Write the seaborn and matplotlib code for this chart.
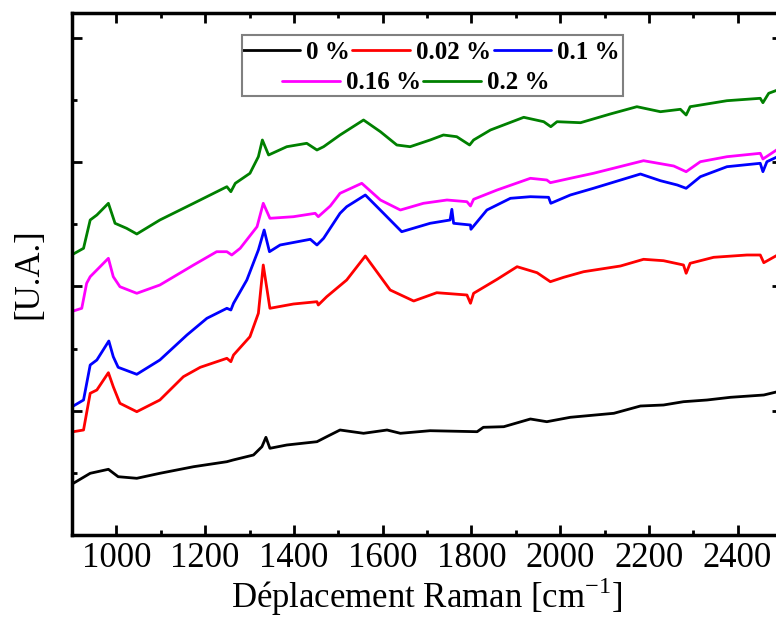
import matplotlib
matplotlib.use("Agg")
import matplotlib.pyplot as plt
import seaborn as sns
import pandas as pd
from matplotlib.ticker import MultipleLocator
from matplotlib.patches import Rectangle

# Raman spectra (wavenumber in cm-1, intensity in arbitrary units)
wn_0 = [903, 941, 982, 1004, 1046, 1098, 1174, 1249, 1263, 1309, 1328, 1337, 1346, 1384,
        1452, 1474, 1504, 1557, 1610, 1640, 1707, 1813, 1827, 1873, 1933, 1970, 2023,
        2121, 2181, 2233, 2278, 2331, 2384, 2459, 2490]
int_0 = [51.7, 61.7, 65.7, 58.3, 56.7, 61.7, 68.3, 73.3, 75, 80, 88.3, 97.7, 86.7, 90,
         93.3, 98.3, 105, 101.7, 105, 101.7, 104.3, 103.3, 107.7, 108.3, 116, 113.3, 117.7,
         121.7, 129, 130, 133.3, 135, 137.7, 140, 143.3]

wn_002 = [903, 926, 941, 956, 982, 993, 1008, 1046, 1098, 1151, 1189, 1249, 1258, 1264,
          1301, 1320, 1331, 1346, 1399, 1452, 1455, 1474, 1519, 1561, 1617, 1670, 1722,
          1790, 1798, 1805, 1858, 1903, 1948, 1978, 2008, 2053, 2136, 2188, 2233, 2278,
          2284, 2293, 2346, 2421, 2451, 2459, 2490]
int_002 = [103.3, 105, 141.7, 145, 162.3, 148.3, 131.7, 123.3, 135, 158.3, 167.7, 176.7,
           173.3, 180, 198.3, 221.7, 270, 226.7, 231, 233.3, 230, 238.3, 255, 279, 245,
           234, 242.3, 240, 231.7, 241.7, 255.7, 268.3, 262.3, 253.3, 257.7, 263.3, 269,
           275.7, 274.3, 270, 261.7, 271.7, 277.7, 280, 280, 272.3, 280]

wn_01 = [903, 926, 941, 956, 983, 993, 1004, 1046, 1098, 1159, 1204, 1249, 1258, 1264,
         1294, 1320, 1333, 1345, 1369, 1437, 1452, 1467, 1504, 1519, 1561, 1602, 1643,
         1707, 1752, 1756, 1760, 1798, 1799, 1835, 1888, 1933, 1974, 1979, 2023, 2075,
         2181, 2226, 2264, 2284, 2316, 2376, 2451, 2457, 2466, 2490]
int_01 = [129, 135, 170, 175, 194, 178.3, 167.7, 160.7, 175, 200, 216.7, 226.7, 225, 231.7,
          255, 285, 305, 283.3, 290, 295.7, 290, 296.7, 321.7, 328.3, 340, 321.7, 303.3,
          311.7, 315, 325.7, 311.7, 310, 305.7, 325, 336.7, 338.3, 337.7, 331.7, 340, 346.7,
          361, 354.3, 350, 346.7, 358.3, 368.3, 371.7, 363.3, 373.3, 378.3]

wn_016 = [903, 922, 933, 941, 982, 993, 1008, 1046, 1098, 1174, 1226, 1249, 1260, 1279,
          1317, 1331, 1346, 1399, 1448, 1455, 1482, 1504, 1553, 1595, 1640, 1692, 1745,
          1790, 1798, 1805, 1858, 1933, 1970, 1978, 2023, 2075, 2188, 2256, 2284, 2316,
          2376, 2451, 2457, 2490]
int_016 = [224, 226.7, 251.7, 258.3, 276.7, 258.3, 248.3, 241.7, 250, 270, 283.3, 283.3,
           280, 286.7, 308.3, 331.7, 316.7, 318.3, 321.7, 318.3, 329, 341.7, 351.7, 335,
           325, 331.7, 335, 333.3, 329, 335.7, 345, 356.7, 355, 352.3, 356.7, 361.7, 374.3,
           369, 363.3, 373.3, 378.3, 381.7, 376, 385.7]

wn_02 = [903, 926, 941, 956, 982, 997, 1023, 1046, 1098, 1174, 1249, 1258, 1268, 1301,
         1320, 1329, 1343, 1384, 1429, 1452, 1467, 1504, 1557, 1595, 1632, 1662, 1707,
         1737, 1767, 1796, 1805, 1843, 1918, 1963, 1979, 1993, 2046, 2113, 2173, 2226,
         2271, 2284, 2293, 2376, 2451, 2457, 2470, 2490]
int_02 = [281, 286.7, 315, 320, 331.7, 311.7, 306.7, 301, 315, 331.7, 348.3, 343.3, 351.7,
          361.7, 378.3, 395, 380, 388.3, 391.7, 385, 388.3, 400, 415, 403.3, 390, 388.3, 395,
          400, 398.3, 390, 395, 405, 417.7, 413.3, 408.3, 413.3, 412.3, 421, 428.3, 423.3,
          425.7, 420, 428.3, 434.3, 436.7, 432.3, 441.7, 445]

labels = ["0 %", "0.02 %", "0.1 %", "0.16 %", "0.2 %"]
colors = ["black", "#ff0000", "#0000ff", "#ff00ff", "#008000"]
series = [(wn_0, int_0), (wn_002, int_002), (wn_01, int_01), (wn_016, int_016), (wn_02, int_02)]

sns.set_style("ticks")
plt.rcParams["font.family"] = ["Liberation Serif", "DejaVu Serif"]
plt.rcParams["mathtext.fontset"] = "custom"
plt.rcParams["mathtext.rm"] = "Liberation Serif"
for key in ["axes.edgecolor", "xtick.color", "ytick.color", "text.color", "axes.labelcolor"]:
    plt.rcParams[key] = "black"

fig = plt.figure(figsize=(7.76, 6.21), dpi=100)
ax = fig.add_axes([72 / 776, 86 / 621, 710 / 776, 522 / 621])

for (x, y), lab, col in zip(series, labels, colors):
    df = pd.DataFrame({"wn": x, "I": y})
    sns.lineplot(data=df, x="wn", y="I", color=col, label=lab, linewidth=2,
                 estimator=None, sort=False, ax=ax)

ax.set_xlim(900, 2500)
ax.set_ylim(0, 522)
ax.xaxis.set_major_locator(MultipleLocator(200))
ax.xaxis.set_minor_locator(MultipleLocator(100))
ax.yaxis.set_major_locator(MultipleLocator(124.3))
ax.yaxis.set_minor_locator(MultipleLocator(62.15))
ax.set_yticklabels([])
ax.tick_params(which="both", direction="in", top=True, right=True, width=2)
ax.tick_params(which="major", length=7.5, labelsize=25, pad=5)
ax.tick_params(which="minor", length=3.5)
for sp in ax.spines.values():
    sp.set_linewidth(2.5)

ax.set_xlabel("Déplacement Raman [cm$^{\\mathrm{-1}}$]", fontsize=25, labelpad=0)
ax.set_ylabel("[U.A.]", fontsize=25, labelpad=14)

# legend: first row of three, second row of two, inside one grey frame
handles, labs = ax.get_legend_handles_labels()
ax.get_legend().remove()
common = dict(prop={"weight": "bold", "size": 18}, handlelength=2.3, handletextpad=0.25,
              columnspacing=0.1, borderpad=0, borderaxespad=0, frameon=False, loc="center")
leg1 = ax.legend(handles[:3], labs[:3], ncol=3, bbox_to_anchor=(0.5056, 0.925), **common)
ax.add_artist(leg1)
leg2 = ax.legend(handles[3:], labs[3:], ncol=2, bbox_to_anchor=(0.4845, 0.866), **common)
ax.add_patch(Rectangle((0.2394, 0.841), 0.5366, 0.117, transform=ax.transAxes,
                       facecolor="none", edgecolor="gray", linewidth=1.5, zorder=5))

fig.savefig("out.png", dpi=100)
